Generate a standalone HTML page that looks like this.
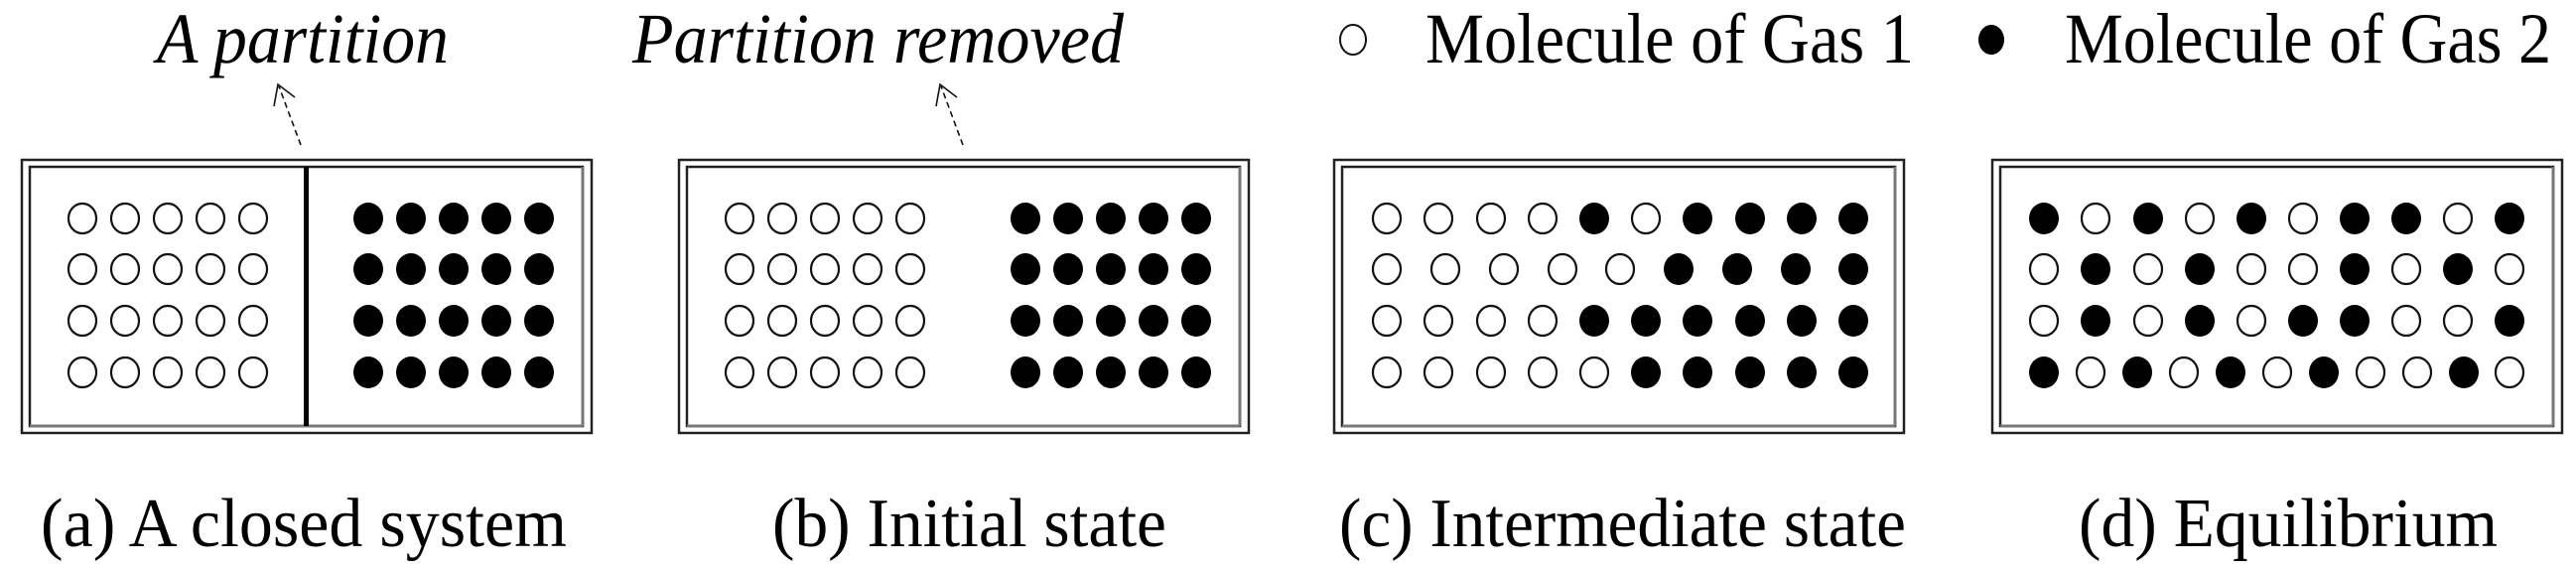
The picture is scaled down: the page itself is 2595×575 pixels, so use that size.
<!DOCTYPE html>
<html><head><meta charset="utf-8"><style>
html,body{margin:0;padding:0;background:#fff;}
svg{display:block;}
text{font-family:"Liberation Serif","Times New Roman","DejaVu Serif",serif;fill:#000;}
</style></head><body>
<svg width="2595" height="575" viewBox="0 0 2595 575" xmlns="http://www.w3.org/2000/svg">
<defs>
<g id="box">
<rect x="0" y="0" width="574" height="275" fill="none" stroke="#222" stroke-width="2.5"/>
<rect x="8" y="7" width="557" height="261" fill="none" stroke="#222" stroke-width="2.5"/>
<line x1="8" y1="268" x2="565" y2="268" stroke="#777" stroke-width="3"/>
<line x1="565" y1="7" x2="565" y2="268" stroke="#777" stroke-width="3"/>
</g>
<ellipse id="w" rx="14" ry="15" fill="#fff" stroke="#111" stroke-width="2.2"/>
<ellipse id="b" rx="15" ry="16" fill="#000"/>
</defs>

<!-- top labels -->
<text font-family="Liberation Serif, serif" x="158" y="63" font-size="72" font-style="italic" textLength="294" lengthAdjust="spacingAndGlyphs">A partition</text>
<text font-family="Liberation Serif, serif" x="637" y="63" font-size="72" font-style="italic" textLength="495" lengthAdjust="spacingAndGlyphs">Partition removed</text>
<!-- arrows -->
<g stroke="#111" stroke-width="1.6" fill="none">
<line x1="303" y1="146" x2="281" y2="87" stroke-dasharray="6,4"/>
<polyline points="276,107 280,85 297,98"/>
<line x1="970" y1="146" x2="948" y2="87" stroke-dasharray="6,4"/>
<polyline points="943,107 947,85 964,98"/>
</g>

<!-- legend -->
<ellipse cx="1363" cy="40" rx="13" ry="15" fill="#fff" stroke="#111" stroke-width="2"/>
<text font-family="Liberation Serif, serif" x="1436" y="63" font-size="72" textLength="492" lengthAdjust="spacingAndGlyphs">Molecule of Gas 1</text>
<ellipse cx="2006" cy="40" rx="13" ry="15" fill="#000"/>
<text font-family="Liberation Serif, serif" x="2080" y="63" font-size="72" textLength="490" lengthAdjust="spacingAndGlyphs">Molecule of Gas 2</text>

<!-- boxes -->
<use href="#box" x="22" y="161"/>
<use href="#box" x="684" y="161"/>
<use href="#box" x="1344" y="161"/>
<use href="#box" x="2007" y="161"/>
<rect x="306" y="168" width="5" height="261" fill="#000"/>

<!-- panel a -->
<g id="pa">
<g>
<use href="#w" x="83" y="220"/><use href="#w" x="126" y="220"/><use href="#w" x="169" y="220"/><use href="#w" x="212" y="220"/><use href="#w" x="255" y="220"/>
<use href="#w" x="83" y="271"/><use href="#w" x="126" y="271"/><use href="#w" x="169" y="271"/><use href="#w" x="212" y="271"/><use href="#w" x="255" y="271"/>
<use href="#w" x="83" y="323"/><use href="#w" x="126" y="323"/><use href="#w" x="169" y="323"/><use href="#w" x="212" y="323"/><use href="#w" x="255" y="323"/>
<use href="#w" x="83" y="375"/><use href="#w" x="126" y="375"/><use href="#w" x="169" y="375"/><use href="#w" x="212" y="375"/><use href="#w" x="255" y="375"/>
</g>
<g>
<use href="#b" x="371" y="220"/><use href="#b" x="414" y="220"/><use href="#b" x="457" y="220"/><use href="#b" x="500" y="220"/><use href="#b" x="543" y="220"/>
<use href="#b" x="371" y="271"/><use href="#b" x="414" y="271"/><use href="#b" x="457" y="271"/><use href="#b" x="500" y="271"/><use href="#b" x="543" y="271"/>
<use href="#b" x="371" y="323"/><use href="#b" x="414" y="323"/><use href="#b" x="457" y="323"/><use href="#b" x="500" y="323"/><use href="#b" x="543" y="323"/>
<use href="#b" x="371" y="375"/><use href="#b" x="414" y="375"/><use href="#b" x="457" y="375"/><use href="#b" x="500" y="375"/><use href="#b" x="543" y="375"/>
</g>
</g>
<!-- panel b -->
<use href="#pa" x="662" y="0"/>

<!-- panel c -->
<g>
<use href="#w" x="1397" y="220"/><use href="#w" x="1449" y="220"/><use href="#w" x="1502" y="220"/><use href="#w" x="1554" y="220"/><use href="#b" x="1606" y="220"/><use href="#w" x="1658" y="220"/><use href="#b" x="1710" y="220"/><use href="#b" x="1763" y="220"/><use href="#b" x="1815" y="220"/><use href="#b" x="1867" y="220"/>
<use href="#w" x="1397" y="271"/><use href="#w" x="1456" y="271"/><use href="#w" x="1515" y="271"/><use href="#w" x="1574" y="271"/><use href="#w" x="1632" y="271"/><use href="#b" x="1691" y="271"/><use href="#b" x="1750" y="271"/><use href="#b" x="1809" y="271"/><use href="#b" x="1867" y="271"/>
<use href="#w" x="1397" y="323"/><use href="#w" x="1449" y="323"/><use href="#w" x="1502" y="323"/><use href="#w" x="1554" y="323"/><use href="#b" x="1606" y="323"/><use href="#b" x="1658" y="323"/><use href="#b" x="1710" y="323"/><use href="#b" x="1763" y="323"/><use href="#b" x="1815" y="323"/><use href="#b" x="1867" y="323"/>
<use href="#w" x="1397" y="375"/><use href="#w" x="1449" y="375"/><use href="#w" x="1502" y="375"/><use href="#w" x="1554" y="375"/><use href="#w" x="1606" y="375"/><use href="#b" x="1658" y="375"/><use href="#b" x="1710" y="375"/><use href="#b" x="1763" y="375"/><use href="#b" x="1815" y="375"/><use href="#b" x="1867" y="375"/>
</g>

<!-- panel d -->
<g>
<use href="#b" x="2059" y="220"/><use href="#w" x="2111" y="220"/><use href="#b" x="2164" y="220"/><use href="#w" x="2216" y="220"/><use href="#b" x="2268" y="220"/><use href="#w" x="2320" y="220"/><use href="#b" x="2372" y="220"/><use href="#b" x="2424" y="220"/><use href="#w" x="2476" y="220"/><use href="#b" x="2528" y="220"/>
<use href="#w" x="2059" y="271"/><use href="#b" x="2111" y="271"/><use href="#w" x="2164" y="271"/><use href="#b" x="2216" y="271"/><use href="#w" x="2268" y="271"/><use href="#w" x="2320" y="271"/><use href="#b" x="2372" y="271"/><use href="#w" x="2424" y="271"/><use href="#b" x="2476" y="271"/><use href="#w" x="2528" y="271"/>
<use href="#w" x="2059" y="323"/><use href="#b" x="2111" y="323"/><use href="#w" x="2164" y="323"/><use href="#b" x="2216" y="323"/><use href="#w" x="2268" y="323"/><use href="#b" x="2320" y="323"/><use href="#b" x="2372" y="323"/><use href="#w" x="2424" y="323"/><use href="#w" x="2476" y="323"/><use href="#b" x="2528" y="323"/>
<use href="#b" x="2059" y="375"/><use href="#w" x="2106" y="375"/><use href="#b" x="2153" y="375"/><use href="#w" x="2200" y="375"/><use href="#b" x="2247" y="375"/><use href="#w" x="2294" y="375"/><use href="#b" x="2341" y="375"/><use href="#w" x="2388" y="375"/><use href="#w" x="2435" y="375"/><use href="#b" x="2482" y="375"/><use href="#w" x="2528" y="375"/>
</g>

<!-- captions -->
<text font-family="Liberation Serif, serif" x="41" y="550" font-size="70" textLength="530" lengthAdjust="spacingAndGlyphs">(a) A closed system</text>
<text font-family="Liberation Serif, serif" x="778" y="550" font-size="70" textLength="397" lengthAdjust="spacingAndGlyphs">(b) Initial state</text>
<text font-family="Liberation Serif, serif" x="1349" y="550" font-size="70" textLength="571" lengthAdjust="spacingAndGlyphs">(c) Intermediate state</text>
<text font-family="Liberation Serif, serif" x="2094" y="550" font-size="70" textLength="422" lengthAdjust="spacingAndGlyphs">(d) Equilibrium</text>
</svg>
</body></html>
